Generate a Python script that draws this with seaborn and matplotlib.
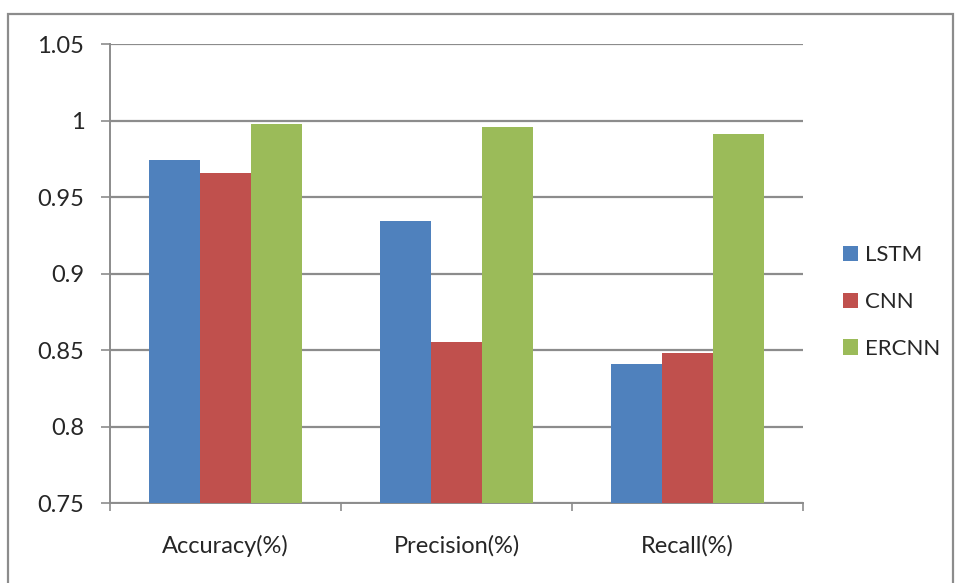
import matplotlib
matplotlib.use("Agg")
import matplotlib.pyplot as plt
from matplotlib.patches import Rectangle
import seaborn as sns
import pandas as pd

categories = ["Accuracy(%)", "Precision(%)", "Recall(%)"]
models = ["LSTM", "CNN", "ERCNN"]
lstm = [0.974, 0.934, 0.841]
cnn = [0.966, 0.855, 0.848]
ercnn = [0.998, 0.996, 0.991]
y_ticks = [0.75, 0.8, 0.85, 0.9, 0.95, 1.0, 1.05]
y_tick_labels = ["0.75", "0.8", "0.85", "0.9", "0.95", "1", "1.05"]
palette = ["#4F81BD", "#C0504D", "#9BBB59"]

rows = []
for name, vals in zip(models, [lstm, cnn, ercnn]):
    for cat, v in zip(categories, vals):
        rows.append({"metric": cat, "model": name, "value": v})
df = pd.DataFrame(rows)

sns.set_style("white")
plt.rcParams["font.family"] = ["Lato", "DejaVu Sans"]

fig = plt.figure(figsize=(9.57, 5.83), dpi=100)
ax = fig.add_axes([110 / 957, 80 / 583, 693 / 957, 459 / 583])

grid_col = "#8C8C8C"
sns.barplot(data=df, x="metric", y="value", hue="model", order=categories,
            hue_order=models, palette=palette, width=0.66, saturation=1,
            edgecolor="none", linewidth=0, ax=ax, legend=True, zorder=3)

ax.set_ylim(0.75, 1.05)
ax.set_xlim(-0.5, 2.5)
ax.set_yticks(y_ticks)
ax.set_yticklabels(y_tick_labels)
ax.yaxis.grid(True, color=grid_col, linewidth=1.6, zorder=0)
ax.set_axisbelow(True)
ax.set_xlabel("")
ax.set_ylabel("")

for side in ["top", "right"]:
    ax.spines[side].set_visible(False)
for side in ["left", "bottom"]:
    ax.spines[side].set_color(grid_col)
    ax.spines[side].set_linewidth(1.4)

# y ticks as short outward stubs; x ticks at category boundaries
ax.tick_params(axis="y", direction="out", length=6.5, width=1.2, color=grid_col,
               labelsize=17, pad=12, left=True)
ax.set_xticks([0, 1, 2])
ax.tick_params(axis="x", length=0, labelsize=17, pad=23)
ax.set_xticks([-0.5, 0.5, 1.5, 2.5], minor=True)
ax.tick_params(axis="x", which="minor", direction="out", length=6, width=1.2,
               color=grid_col, bottom=True)

handles, labels = ax.get_legend_handles_labels()
ax.legend(handles, labels, loc="center left",
          bbox_to_anchor=(843 / 957, (583 - 302) / 583),
          bbox_transform=fig.transFigure, frameon=False, fontsize=16,
          handlelength=0.68, handleheight=0.68, handletextpad=0.32,
          labelspacing=1.2, borderaxespad=0, borderpad=0)

# outer chart frame
fig.patches.append(Rectangle((8 / 957, -0.05), (953 - 8) / 957, (583 - 14) / 583 + 0.05,
                             transform=fig.transFigure, fill=False,
                             edgecolor="#8C8C8C", linewidth=1.6))

fig.savefig("out.png", dpi=100)
